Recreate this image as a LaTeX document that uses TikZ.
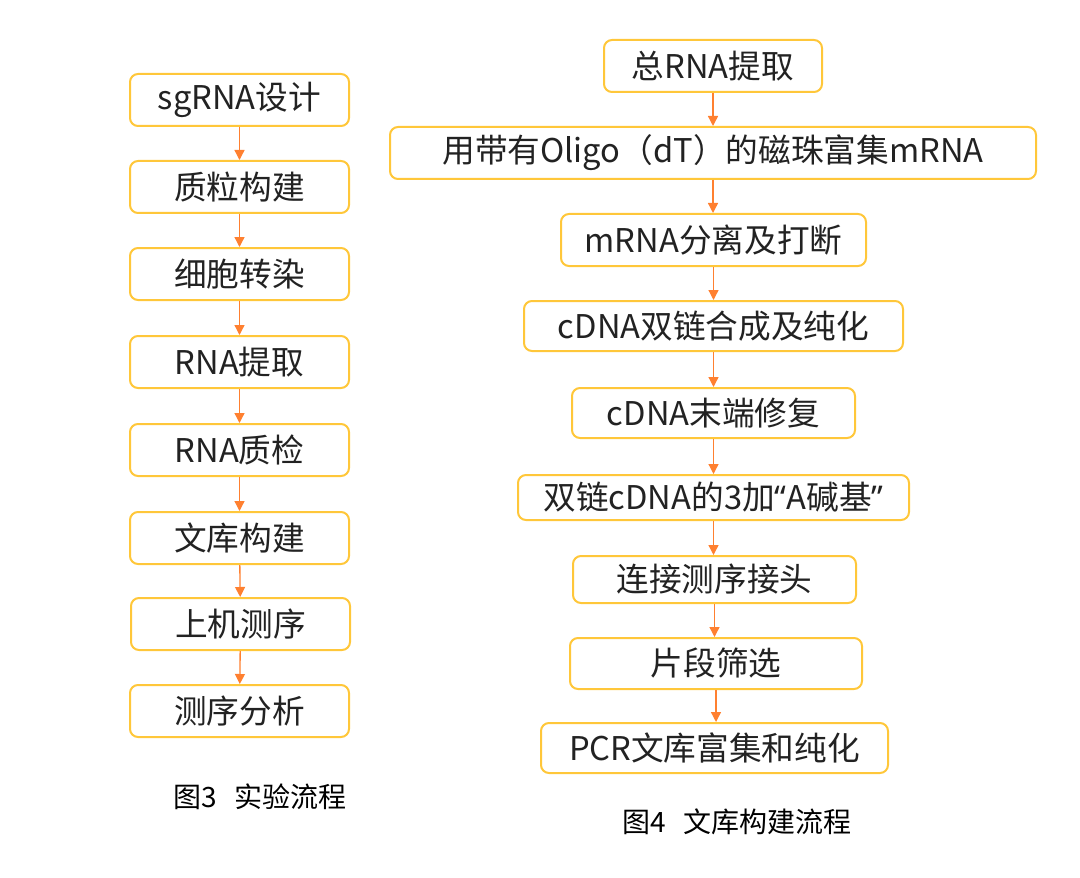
\documentclass[tikz,border=0pt]{standalone}
\usepackage{fontspec}
\newfontfamily\cjk{Noto Sans CJK SC}
\newfontfamily\lat{Noto Sans}
\usetikzlibrary{arrows.meta}
\definecolor{boxc}{HTML}{FFC73A}
\definecolor{arrc}{HTML}{FF8030}
\definecolor{textc}{HTML}{222222}
\tikzset{
  stepbox/.style={draw=boxc, line width=1.5pt, rounded corners=6pt, fill=white,
    inner sep=0pt, text=textc, font=\cjk\fontsize{24.5}{28}\selectfont},
  flow/.style={draw=arrc, line width=1pt, -{Triangle[width=7.5pt,length=7.5pt]}},
  caption/.style={inner sep=0pt, text=black, font=\cjk\fontsize{21}{24}\selectfont}
}
\begin{document}
\begin{tikzpicture}[x=0.75pt,y=-0.75pt]
\useasboundingbox (0,0) rectangle (1080,877);
% left chart
\node[stepbox, minimum width=219*0.75pt, minimum height=52*0.75pt] (l1) at (239.5,100) {sgRNA设计};
\node[stepbox, minimum width=219*0.75pt, minimum height=52*0.75pt] (l2) at (239.5,187) {质粒构建};
\node[stepbox, minimum width=219*0.75pt, minimum height=52*0.75pt] (l3) at (239.5,274) {细胞转染};
\node[stepbox, minimum width=219*0.75pt, minimum height=52*0.75pt] (l4) at (239.5,362) {RNA提取};
\node[stepbox, minimum width=219*0.75pt, minimum height=52*0.75pt] (l5) at (239.5,450) {RNA质检};
\node[stepbox, minimum width=219*0.75pt, minimum height=52*0.75pt] (l6) at (239.5,538) {文库构建};
\node[stepbox, minimum width=219*0.75pt, minimum height=52*0.75pt] (l7) at (240.5,624) {上机测序};
\node[stepbox, minimum width=219*0.75pt, minimum height=52*0.75pt] (l8) at (239.5,711) {测序分析};
\foreach \a/\b in {l1/l2,l2/l3,l3/l4,l4/l5,l5/l6,l6/l7,l7/l8}
  \draw[flow] (\a) -- (\b);
\node[caption] (c3) at (260,797) {图3\hspace{0.6em}实验流程};
% right chart
\node[stepbox, minimum width=218*0.75pt, minimum height=52*0.75pt] (r1) at (713,66) {总RNA提取};
\node[stepbox, minimum width=646*0.75pt, minimum height=52*0.75pt] (r2) at (713,153) {用带有Oligo（dT）的磁珠富集mRNA};
\node[stepbox, minimum width=305*0.75pt, minimum height=52*0.75pt] (r3) at (713.5,240) {mRNA分离及打断};
\node[stepbox, minimum width=379*0.75pt, minimum height=50*0.75pt] (r4) at (713.5,326) {cDNA双链合成及纯化};
\node[stepbox, minimum width=283*0.75pt, minimum height=50*0.75pt] (r5) at (713.5,413) {cDNA末端修复};
\node[stepbox, minimum width=391*0.75pt, minimum height=45*0.75pt] (r6) at (713.5,497.5) {双链cDNA的3加{\lat “}A碱基{\lat ”}};
\node[stepbox, minimum width=283*0.75pt, minimum height=47*0.75pt] (r7) at (714.5,579.5) {连接测序接头};
\node[stepbox, minimum width=292*0.75pt, minimum height=51*0.75pt] (r8) at (716,663.5) {片段筛选};
\node[stepbox, minimum width=347*0.75pt, minimum height=50*0.75pt] (r9) at (714.5,748) {PCR文库富集和纯化};
\foreach \a/\b in {r1/r2,r2/r3,r3/r4,r4/r5,r5/r6,r6/r7,r7/r8,r8/r9}
  \draw[flow] (\a) -- (\a|-\b.north);
\node[caption] (c4) at (737,822) {图4\hspace{0.6em}文库构建流程};
\end{tikzpicture}
\end{document}
